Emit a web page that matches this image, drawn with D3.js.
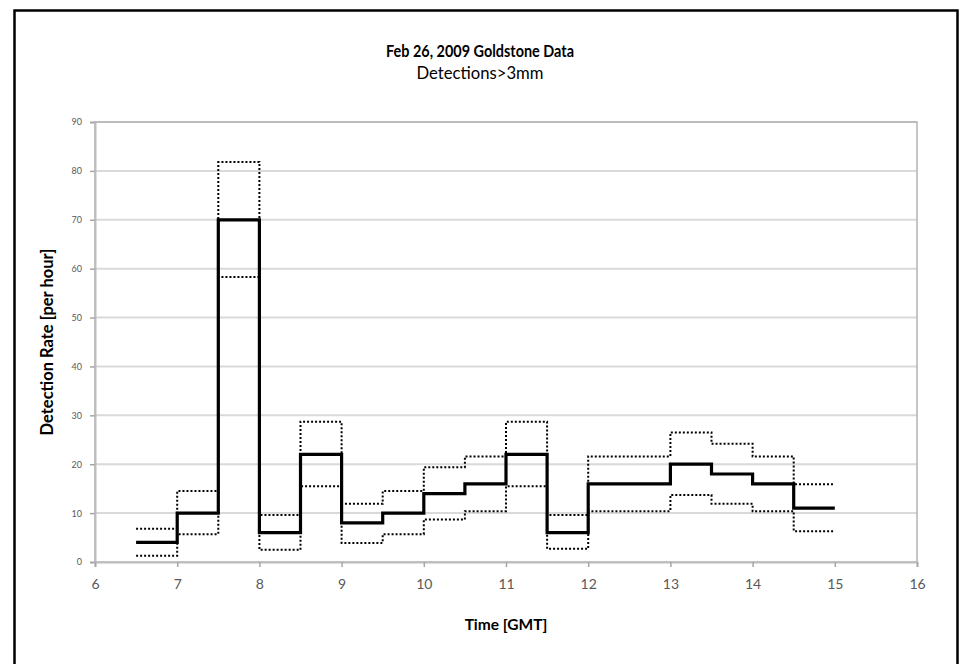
<!DOCTYPE html>
<html>
<head>
<meta charset="utf-8">
<script src="https://cdn.jsdelivr.net/npm/d3@7"></script>
<style>
  body { margin: 0; background: #fff; }
  text { font-family: Lato, "Open Sans", sans-serif; }
</style>
</head>
<body>
<div id="chart"></div>
<script>
// bin edges in hours GMT (last bin ends at 15)
const edges = [6.5, 7, 7.5, 8, 8.5, 9, 9.5, 10, 10.5, 11, 11.5, 12, 13, 13.5, 14, 14.5, 15];
// detection rate per bin and the dotted upper / lower bounds
const rate  = [4, 10, 70, 6, 22, 8, 10, 14, 16, 22, 6, 16, 20, 18, 16, 11];
const upper = [6.8, 14.5, 81.8, 9.6, 28.7, 11.9, 14.5, 19.4, 21.6, 28.7, 9.6, 21.6, 26.5, 24.2, 21.6, 15.9];
const lower = [1.3, 5.7, 58.3, 2.5, 15.5, 3.9, 5.7, 8.7, 10.4, 15.5, 2.7, 10.4, 13.7, 11.9, 10.4, 6.3];
const xTicks = [6, 7, 8, 9, 10, 11, 12, 13, 14, 15, 16];
const yTicks = [0, 10, 20, 30, 40, 50, 60, 70, 80, 90];

const width = 959, height = 664;
const margin = {left: 95, right: 917, top: 122, bottom: 562};

const svg = d3.select('#chart').append('svg')
    .attr('width', width)
    .attr('height', height);

// outer frame
svg.append('rect')
    .attr('x', 14.5).attr('y', 10.5)
    .attr('width', 943).attr('height', 700)
    .attr('fill', 'none')
    .attr('stroke', '#000')
    .attr('stroke-width', 2.5);

const x = d3.scaleLinear().domain([6, 16]).range([margin.left, margin.right]);
const y = d3.scaleLinear().domain([0, 90]).range([margin.bottom, margin.top]);

// gridlines
svg.append('g')
    .selectAll('line')
    .data(yTicks.filter(d => d > 0))
    .join('line')
    .attr('x1', margin.left).attr('x2', margin.right)
    .attr('y1', d => y(d)).attr('y2', d => y(d))
    .attr('stroke', '#d9d9d9')
    .attr('stroke-width', 2);

// plot area border
svg.append('rect')
    .attr('x', margin.left).attr('y', margin.top)
    .attr('width', margin.right - margin.left).attr('height', margin.bottom - margin.top)
    .attr('fill', 'none')
    .attr('stroke', '#b3b3b3')
    .attr('stroke-width', 1.5);

// axes
const axisY = svg.append('g')
    .attr('transform', `translate(${margin.left},0)`)
    .call(d3.axisLeft(y).tickValues(yTicks).tickSize(5).tickPadding(8));
const axisX = svg.append('g')
    .attr('transform', `translate(0,${margin.bottom})`)
    .call(d3.axisBottom(x).tickValues(xTicks).tickSize(5).tickPadding(12));

[axisY, axisX].forEach(a => {
    a.select('.domain').attr('stroke', '#bdbdbd').attr('stroke-width', 2);
    a.selectAll('.tick line').attr('stroke', '#a6a6a6').attr('stroke-width', 1.5);
    a.selectAll('.tick text').attr('fill', '#595959');
});
axisY.selectAll('.tick text').style('font-size', '9px');
axisX.selectAll('.tick text').style('font-size', '14px');

// step lines
const stepPts = arr => edges.map((e, i) => [e, arr[Math.min(i, arr.length - 1)]]);
const line = d3.line()
    .x(d => x(d[0]))
    .y(d => y(d[1]))
    .curve(d3.curveStepAfter);

[upper, lower].forEach(arr => {
    svg.append('path')
        .datum(stepPts(arr))
        .attr('d', line)
        .attr('fill', 'none')
        .attr('stroke', '#000')
        .attr('stroke-width', 2)
        .attr('stroke-dasharray', '2,2');
});

svg.append('path')
    .datum(stepPts(rate))
    .attr('d', line)
    .attr('fill', 'none')
    .attr('stroke', '#000')
    .attr('stroke-width', 3.2);

// titles (squeezed a bit to get closer to the narrow original face)
svg.append('text')
    .attr('x', 480).attr('y', 57)
    .attr('text-anchor', 'middle')
    .attr('textLength', 188)
    .attr('lengthAdjust', 'spacingAndGlyphs')
    .style('font-size', '17.5px')
    .style('font-weight', 'bold')
    .text('Feb 26, 2009 Goldstone Data');
svg.append('text')
    .attr('x', 480).attr('y', 79)
    .attr('text-anchor', 'middle')
    .attr('textLength', 127)
    .attr('lengthAdjust', 'spacingAndGlyphs')
    .style('font-size', '16.5px')
    .text('Detections>3mm');

svg.append('text')
    .attr('x', (margin.left + margin.right) / 2).attr('y', 630)
    .attr('text-anchor', 'middle')
    .style('font-size', '15.5px')
    .style('font-weight', 'bold')
    .text('Time [GMT]');
svg.append('text')
    .attr('transform', `translate(53,${(margin.top + margin.bottom) / 2})rotate(-90)`)
    .attr('text-anchor', 'middle')
    .style('font-size', '16.5px')
    .style('font-weight', 'bold')
    .text('Detection Rate [per hour]');
</script>
</body>
</html>
